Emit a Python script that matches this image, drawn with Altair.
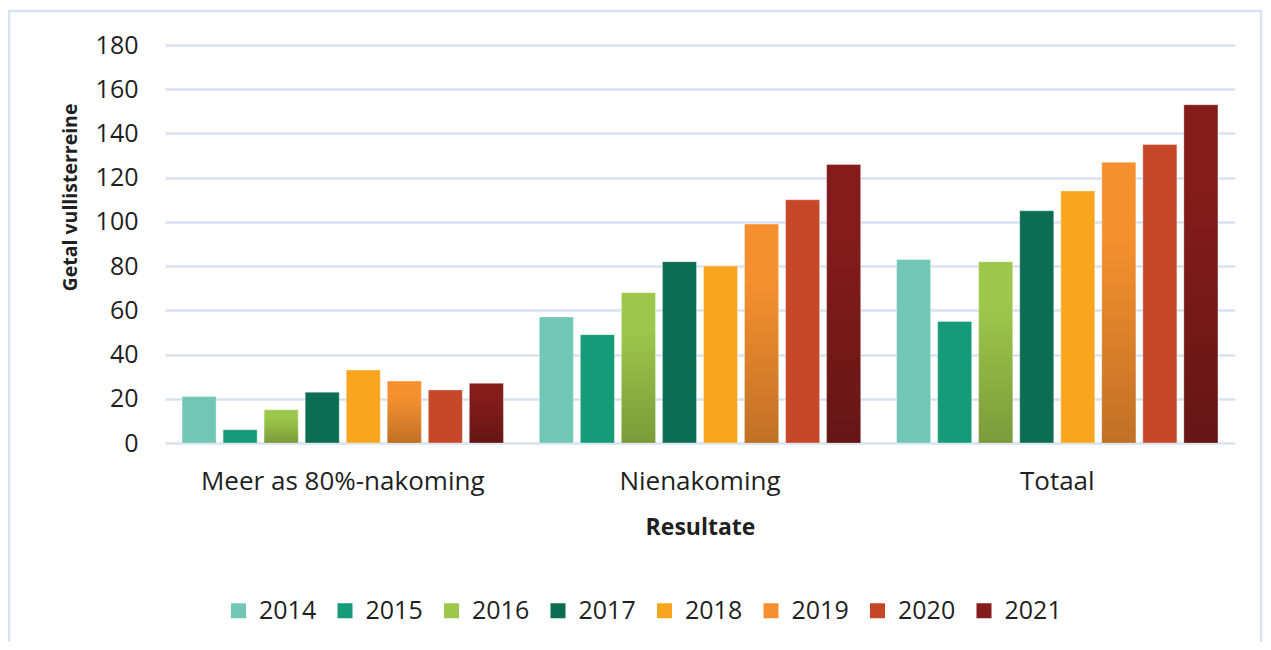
import altair as alt
import pandas as pd

categories = ["Meer as 80%-nakoming", "Nienakoming", "Totaal"]
years = ["2014", "2015", "2016", "2017", "2018", "2019", "2020", "2021"]
values = {
    "2014": [21, 57, 83],
    "2015": [6, 49, 55],
    "2016": [15, 68, 82],
    "2017": [23, 82, 105],
    "2018": [33, 80, 114],
    "2019": [28, 99, 127],
    "2020": [24, 110, 135],
    "2021": [27, 126, 153],
}
colors = ["#71C7B6", "#159B77", "#9CC74A", "#0D6D52", "#F9A61E", "#F6902F", "#C64828", "#831C1B"]
shaded_years = ["2016", "2019", "2021"]

rows = []
for y in years:
    for c, v in zip(categories, values[y]):
        rows.append({"Resultate": c, "Jaar": y, "Getal": v})
df = pd.DataFrame(rows)

FONT = "Open Sans"
TXT = "#1f1f1f"
GRID = "#D6E3F3"

x_enc = alt.X("Resultate:N", sort=categories,
              scale=alt.Scale(paddingInner=0.081, paddingOuter=0.038),
              axis=alt.Axis(title="Resultate", labelAngle=0, domain=False, ticks=False,
                            labelPadding=25, titlePadding=22, labelFontSize=26, labelLimit=0,
                            titleFontSize=23, labelFont=FONT, titleFont=FONT,
                            titleFontWeight="bold", labelColor=TXT, titleColor=TXT))
xo_enc = alt.XOffset("Jaar:N", sort=years, scale=alt.Scale(paddingInner=0.17, paddingOuter=0.085))
y_enc = alt.Y("Getal:Q", scale=alt.Scale(domain=[0, 180]),
              axis=alt.Axis(title="Getal vullisterreine", values=list(range(0, 181, 20)),
                            domain=False, ticks=False, labelPadding=27, titlePadding=15,
                            titleY=152,
                            grid=True, gridColor=GRID, gridWidth=2.5,
                            labelFontSize=25, titleFontSize=19.5, labelFont=FONT, titleFont=FONT,
                            titleFontWeight="bold", labelColor=TXT, titleColor=TXT))

bars = alt.Chart(df).mark_bar(stroke="white", strokeOpacity=0.35, strokeWidth=1).encode(
    x=x_enc, xOffset=xo_enc, y=y_enc,
    color=alt.Color("Jaar:N", sort=years, scale=alt.Scale(domain=years, range=colors),
                    legend=alt.Legend(title=None, orient="none", legendX=61, legendY=553,
                                      direction="horizontal", columns=8, symbolType="square",
                                      symbolSize=225, symbolStrokeWidth=0, labelOffset=8,
                                      columnPadding=15.5, labelFontSize=25, labelFont=FONT,
                                      labelColor=TXT, padding=0)),
)

shade = alt.Chart(df).transform_filter(
    alt.FieldOneOfPredicate(field="Jaar", oneOf=shaded_years)
).mark_bar(
    color=alt.Gradient(gradient="linear", x1=0, x2=0, y1=0, y2=1,
                       stops=[alt.GradientStop(offset=0.25, color="rgba(0,0,0,0)"),
                              alt.GradientStop(offset=1, color="rgba(0,0,0,0.22)")])
).encode(x=x_enc, xOffset=xo_enc, y=y_enc)

border = alt.Chart(pd.DataFrame({"a": [0]})).mark_rect(
    fill=None, stroke=GRID, strokeWidth=2.5
).encode(x=alt.value(-156), x2=alt.value(1096), y=alt.value(-34), y2=alt.value(640))

chart = alt.layer(border, bars, shade).properties(
    width=1070, height=398,
    autosize=alt.AutoSizeParams(type="none"),
    padding={"left": 157, "top": 37, "right": 28, "bottom": 199},
).configure_view(stroke=None)

chart.save("out.html", embed_options={"renderer": "svg", "actions": False})
